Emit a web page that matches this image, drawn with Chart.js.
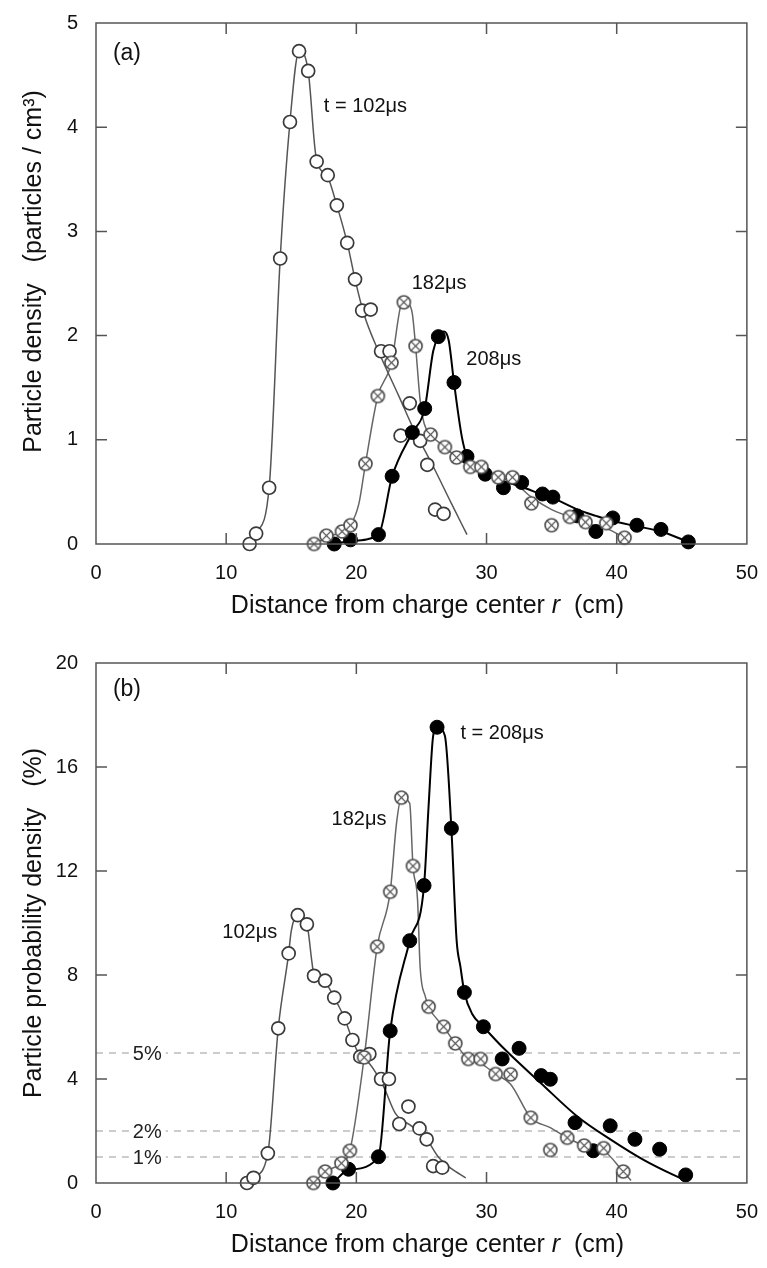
<!DOCTYPE html>
<html><head><meta charset="utf-8">
<script src="https://cdn.jsdelivr.net/npm/chart.js@4.4.0/dist/chart.umd.min.js"></script>
<style>
html,body{margin:0;padding:0;background:#fff;}
#wrap{position:relative;width:767px;height:1268px;overflow:hidden;}
canvas{position:absolute;left:0;}
</style></head><body>
<div id="wrap">
<canvas id="ca" width="767" height="634" style="top:0"></canvas>
<canvas id="cb" width="767" height="634" style="top:634px"></canvas>
</div>
<script>
// ---------- DATA ----------
// Panel (a): particle density (particles / cm^3) vs r (cm)
const r102a = [11.8,12.3,13.3,14.15,14.9,15.6,16.3,16.95,17.8,18.5,19.3,19.9,20.45,21.1,21.9,22.55,23.4,24.1,24.9,25.45,26.05,26.7];
const n102a = [0.00,0.10,0.54,2.74,4.05,4.73,4.54,3.67,3.54,3.25,2.89,2.54,2.24,2.25,1.85,1.85,1.04,1.35,0.99,0.76,0.33,0.29];
const r182a = [16.75,17.7,18.9,19.55,20.7,21.65,22.7,23.65,24.55,25.7,26.8,27.7,28.75,29.6,30.9,32.0,33.45,35.0,36.4,37.6,39.2,40.6];
const n182a = [0.00,0.08,0.12,0.18,0.77,1.42,1.74,2.32,1.90,1.05,0.93,0.83,0.74,0.74,0.64,0.64,0.39,0.18,0.26,0.21,0.20,0.06];
const r208a = [18.3,19.55,21.7,22.75,24.3,25.25,26.3,27.5,28.5,29.9,31.3,32.7,34.3,35.1,36.95,38.4,39.7,41.55,43.4,45.5];
const n208a = [0.00,0.04,0.09,0.65,1.07,1.30,1.99,1.55,0.84,0.67,0.54,0.59,0.48,0.45,0.27,0.12,0.25,0.18,0.14,0.02];
// fitted curves, panel (a)
const cx102a = [11.8,12.3,13.3,14.15,14.9,15.6,16.3,16.9,17.8,18.5,19.3,19.9,20.6,21.7,23.3,24.3,25.8,27.3,28.5];
const cy102a = [0,0.1,0.54,2.74,4.05,4.73,4.54,3.72,3.52,3.25,2.89,2.54,2.2,1.85,1.41,1.13,0.77,0.39,0.09];
const cx182a = [16.75,17.7,18.9,19.55,20.2,20.7,21.65,22.7,23.4,23.65,24.0,24.3,24.55,24.9,25.2,25.7,26.8,27.7,28.75,29.6,30.9,32.0,33.45,35.0,36.4,37.6,39.2,40.6];
const cy182a = [0,0.06,0.12,0.18,0.39,0.77,1.42,1.74,2.28,2.32,2.31,2.21,1.90,1.38,1.16,1.05,0.93,0.83,0.74,0.71,0.64,0.6,0.45,0.33,0.26,0.2,0.15,0.06];
const cx208a = [18.3,19.55,21.7,22.75,24.3,25.25,25.9,26.3,26.75,27.1,27.5,28.1,28.5,29.9,31.3,32.7,34.3,35.1,37.0,38.4,39.7,41.55,43.4,45.5];
const cy208a = [0,0.03,0.09,0.65,1.07,1.30,1.85,1.99,2.04,1.95,1.55,1.03,0.84,0.67,0.6,0.55,0.47,0.44,0.33,0.27,0.22,0.17,0.12,0.02];

// Panel (b): particle probability density (%) vs r (cm)
const r102b = [11.6,12.1,13.2,14.0,14.8,15.5,16.2,16.75,17.6,18.3,19.1,19.7,20.3,21.0,21.9,22.5,23.3,24.0,24.85,25.4,25.9,26.6];
const p102b = [0.0,0.2,1.14,5.95,8.83,10.3,9.95,7.97,7.78,7.13,6.33,5.5,4.86,4.96,4.0,4.0,2.27,2.94,2.1,1.68,0.65,0.59];
const r182b = [16.7,17.6,18.85,19.5,20.6,21.6,22.6,23.46,24.35,25.55,26.7,27.6,28.6,29.55,30.7,31.85,33.4,34.9,36.2,37.5,39.0,40.5];
const p182b = [0.0,0.44,0.76,1.24,4.83,9.09,11.2,14.82,12.19,6.78,6.01,5.37,4.77,4.77,4.19,4.18,2.51,1.27,1.74,1.44,1.34,0.44];
const r208b = [18.2,19.4,21.7,22.6,24.1,25.2,26.2,27.3,28.3,29.76,31.2,32.5,34.2,34.9,36.8,38.2,39.5,41.4,43.3,45.3];
const p208b = [0.0,0.53,1.01,5.85,9.32,11.44,17.53,13.64,7.33,6.01,4.77,5.18,4.13,3.99,2.32,1.24,2.2,1.68,1.3,0.31];
// fitted curves, panel (b)
const cx102b = [11.6,12.1,13.2,14.0,14.8,15.0,15.5,16.2,16.6,16.75,17.6,18.3,19.1,19.7,20.3,21.0,22.1,23.0,24.3,25.4,26.3,27.3,28.4];
const cy102b = [0,0.2,1.14,5.95,8.83,9.7,10.3,9.95,8.45,7.97,7.7,7.13,6.33,5.5,4.86,4.6,3.7,2.68,2.17,1.68,1.0,0.55,0.2];
const cx182b = [16.7,17.6,18.85,19.5,20.6,21.6,22.6,23.1,23.46,24.1,24.35,24.7,24.9,25.3,25.55,26.7,27.6,28.6,29.55,30.7,31.85,33.4,34.9,36.2,37.5,39.0,40.5,41.1];
const cy182b = [0,0.44,0.76,1.24,4.83,9.09,11.2,13.9,14.82,14.6,12.19,10.9,8.3,7.17,6.78,6.01,5.37,4.77,4.6,4.19,3.8,2.51,2.13,1.74,1.44,1.25,0.44,0.1];
const cx208b = [18.2,19.4,21.7,22.6,24.1,25.2,25.55,25.9,26.2,26.8,27.3,27.7,28.0,28.3,28.9,29.76,31.2,34.2,37.0,39.6,42.1,44.4,45.3];
const cy208b = [0,0.5,1.01,5.85,9.32,11.44,14.5,17.2,17.53,17.2,13.64,9.35,8.3,7.33,6.5,6.01,5.24,3.83,2.55,1.65,0.88,0.3,0.1];
// reference levels in panel (b)
const refLevels = [5, 2, 1];
const refLabels = ['5%', '2%', '1%'];
const xTickValues = [0,10,20,30,40,50];

// ---------- helpers ----------
const FF = '"Liberation Sans", Arial, Helvetica, sans-serif';
const zip = (xs, ys) => xs.map((v, i) => ({x: v, y: ys[i]}));

function makeXCircle(r, color, lw) {
  const s = Math.ceil(2 * r + lw + 2) | 1;
  const c = document.createElement('canvas'); c.width = s; c.height = s;
  const g = c.getContext('2d'); const m = s / 2;
  g.beginPath(); g.arc(m, m, r, 0, Math.PI * 2); g.fillStyle = '#fff'; g.fill();
  g.lineWidth = lw; g.strokeStyle = color; g.stroke();
  const d = r * Math.SQRT1_2;
  g.lineWidth = 1.3;
  g.beginPath(); g.moveTo(m - d, m - d); g.lineTo(m + d, m + d); g.moveTo(m + d, m - d); g.lineTo(m - d, m + d); g.stroke();
  return c;
}
const xCircle = makeXCircle(6.5, '#505050', 1.7);

function markers(data, kind, order) {
  const base = {type: 'scatter', data, order, clip: false, showLine: false};
  if (kind === 'open') return Object.assign(base, {pointStyle: 'circle', pointRadius: 6.5, pointBorderWidth: 1.7, pointBorderColor: '#3a3a3a', pointBackgroundColor: '#fff'});
  if (kind === 'cross') return Object.assign(base, {pointStyle: xCircle, pointRadius: 7});
  return Object.assign(base, {pointStyle: 'circle', pointRadius: 7, pointBorderWidth: 1, pointBorderColor: '#000', pointBackgroundColor: '#000'});
}
function curve(data, color, w, order) {
  return {type: 'line', data, order, borderColor: color, borderWidth: w, pointRadius: 0, fill: false,
          cubicInterpolationMode: 'monotone', clip: false};
}
function refLine(level) {
  return {type: 'line', data: [{x: 0, y: level}, {x: 50, y: level}], order: 20, borderColor: '#9a9a9a',
          borderWidth: 1.2, borderDash: [7, 6], pointRadius: 0, fill: false, tension: 0};
}

const deco = {
  id: 'deco',
  afterDatasetsDraw(chart, args, o) {
    const {ctx, chartArea: a, scales: {x, y}} = chart;
    ctx.save();
    // percent labels with white background
    (o.refText || []).forEach(t => {
      ctx.font = '20px ' + FF;
      const w = ctx.measureText(t.text).width;
      const px = x.getPixelForValue(t.x), py = y.getPixelForValue(t.y);
      ctx.fillStyle = '#fff'; ctx.fillRect(px - 4, py - 8, w + 8, 16);
      ctx.fillStyle = '#222'; ctx.textAlign = 'left'; ctx.textBaseline = 'middle';
      ctx.fillText(t.text, px, py + 1);
    });
    // frame
    ctx.strokeStyle = '#555'; ctx.lineWidth = 1.5;
    ctx.strokeRect(a.left, a.top, a.right - a.left, a.bottom - a.top);
    // inward ticks
    const L = 11;
    ctx.beginPath();
    x.ticks.forEach(t => { if (t.value > x.min && t.value < x.max) { const p = x.getPixelForValue(t.value);
      ctx.moveTo(p, a.bottom); ctx.lineTo(p, a.bottom - L); ctx.moveTo(p, a.top); ctx.lineTo(p, a.top + L); } });
    y.ticks.forEach(t => { if (t.value > y.min && t.value < y.max) { const p = y.getPixelForValue(t.value);
      ctx.moveTo(a.left, p); ctx.lineTo(a.left + L, p); ctx.moveTo(a.right, p); ctx.lineTo(a.right - L, p); } });
    ctx.stroke();
    // annotations
    ctx.fillStyle = '#111'; ctx.textAlign = 'left'; ctx.textBaseline = 'middle';
    (o.notes || []).forEach(t => {
      ctx.font = (t.size || 20) + 'px ' + FF;
      ctx.fillText(t.text, x.getPixelForValue(t.x), y.getPixelForValue(t.y));
    });
    // x title with italic r
    const parts = [['Distance from charge center ', ''], ['r', 'italic '], ['  (cm)', '']];
    let tw = 0;
    parts.forEach(p => { ctx.font = p[1] + '25px ' + FF; tw += ctx.measureText(p[0]).width; });
    let sx = (a.left + a.right) / 2 + 6 - tw / 2;
    const ty = a.bottom + o.xTitleOffset;
    parts.forEach(p => { ctx.font = p[1] + '25px ' + FF; ctx.fillText(p[0], sx, ty); sx += ctx.measureText(p[0]).width; });
    // y title
    ctx.save();
    ctx.translate(o.yTitleX, (a.top + a.bottom) / 2 + o.yTitleShift);
    ctx.rotate(-Math.PI / 2);
    ctx.font = '25px ' + FF; ctx.textAlign = 'center'; ctx.textBaseline = 'middle';
    ctx.fillText(o.yTitle, 0, 0);
    ctx.restore();
    ctx.restore();
  }
};

function makeChart(id, datasets, ymax, ystep, padTop, xh, decoOpts) {
  return new Chart(document.getElementById(id), {
    data: {datasets},
    plugins: [deco],
    options: {
      responsive: false, animation: false, devicePixelRatio: 1,
      layout: {padding: {top: padTop, right: 18, left: 0, bottom: 0}},
      plugins: {legend: {display: false}, tooltip: {enabled: false}, deco: decoOpts},
      scales: {
        x: {type: 'linear', min: 0, max: 50,
            afterBuildTicks: s => { s.ticks = xTickValues.map(v => ({value: v})); },
            ticks: {color: '#111', font: {size: 20, family: FF}, padding: 9, maxRotation: 0, autoSkip: false},
            grid: {display: false}, border: {display: false},
            afterFit: s => { s.height = xh; }},
        y: {type: 'linear', min: 0, max: ymax,
            ticks: {stepSize: ystep, color: '#111', font: {size: 20, family: FF}, padding: 10},
            grid: {display: false}, border: {display: false},
            afterFit: s => { s.width = 96; }}
      }
    }
  });
}

makeChart('ca', [
  markers(zip(r182a, n182a), 'cross', 0),
  markers(zip(r208a, n208a), 'filled', 1),
  markers(zip(r102a, n102a), 'open', 2),
  curve(zip(cx102a, cy102a), '#555', 1.5, 10),
  curve(zip(cx182a, cy182a), '#666', 1.5, 11),
  curve(zip(cx208a, cy208a), '#000', 2, 9)
], 5, 1, 23, 90, {
  notes: [
    {text: '(a)', x: 1.3, y: 4.71, size: 23},
    {text: 't = 102μs', x: 17.5, y: 4.20},
    {text: '182μs', x: 24.25, y: 2.50},
    {text: '208μs', x: 28.45, y: 1.77}
  ],
  xTitleOffset: 62, yTitleX: 34, yTitleShift: -12,
  yTitle: 'Particle density   (particles / cm³)'
});

makeChart('cb', [
  markers(zip(r182b, p182b), 'cross', 0),
  markers(zip(r208b, p208b), 'filled', 1),
  markers(zip(r102b, p102b), 'open', 2),
  curve(zip(cx102b, cy102b), '#555', 1.5, 10),
  curve(zip(cx182b, cy182b), '#666', 1.5, 11),
  curve(zip(cx208b, cy208b), '#000', 2, 9),
  ...refLevels.map(refLine)
], 20, 4, 29, 85, {
  refText: refLevels.map((v, i) => ({text: refLabels[i], x: 2.83, y: v})),
  notes: [
    {text: '(b)', x: 1.3, y: 18.96, size: 23},
    {text: '182μs', x: 18.1, y: 14.0},
    {text: '102μs', x: 9.7, y: 9.65},
    {text: 't = 208μs', x: 28.0, y: 17.3}
  ],
  xTitleOffset: 62, yTitleX: 34, yTitleShift: 0,
  yTitle: 'Particle probability density   (%)'
});
</script>
</body></html>
